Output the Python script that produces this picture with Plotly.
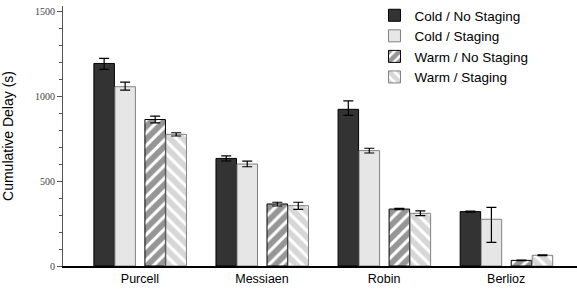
import plotly.graph_objects as go

categories = ["Purcell", "Messiaen", "Robin", "Berlioz"]
series_names = ["Cold / No Staging", "Cold / Staging", "Warm / No Staging", "Warm / Staging"]

cold_nostaging = [1192, 633, 922, 320]
cold_nostaging_err_plus = [30, 15, 50, 3]
cold_nostaging_err_minus = [35, 15, 36, 3]

cold_staging = [1055, 600, 679, 275]
cold_staging_err_plus = [27, 17, 14, 70]
cold_staging_err_minus = [20, 16, 14, 136]

warm_nostaging = [862, 365, 335, 33]
warm_nostaging_err_plus = [20, 10, 4, 2]
warm_nostaging_err_minus = [20, 12, 4, 2]

warm_staging = [775, 355, 310, 63]
warm_staging_err_plus = [9, 20, 14, 2]
warm_staging_err_minus = [10, 22, 14, 2]

values = [cold_nostaging, cold_staging, warm_nostaging, warm_staging]
err_plus = [cold_nostaging_err_plus, cold_staging_err_plus, warm_nostaging_err_plus, warm_staging_err_plus]
err_minus = [cold_nostaging_err_minus, cold_staging_err_minus, warm_nostaging_err_minus, warm_staging_err_minus]

offsets = [-0.377, -0.205, 0.041, 0.213]
bar_width = 0.168
fills = ["#333333", "#e6e6e6", "white", "white"]
lines = ["#000000", "#808080", "#000000", "#808080"]
patterns = [
    dict(shape=""),
    dict(shape=""),
    dict(shape="/", fgcolor="#2e2e2e", bgcolor="white", size=9, solidity=0.65, fillmode="overlay"),
    dict(shape="\\", fgcolor="#b0b0b0", bgcolor="white", size=9, solidity=0.65, fillmode="overlay"),
]

fig = go.Figure()
for i in range(4):
    fig.add_trace(go.Bar(
        x=categories,
        y=values[i],
        name=series_names[i],
        offset=offsets[i],
        width=bar_width,
        marker=dict(color=fills[i], line=dict(color=lines[i], width=1), pattern=patterns[i]),
        error_y=dict(type="data", symmetric=False, array=err_plus[i], arrayminus=err_minus[i],
                     color="black", thickness=1.2, width=5),
    ))

fig.update_layout(
    width=577, height=290,
    margin=dict(l=63, r=0, t=6, b=24),
    plot_bgcolor="white", paper_bgcolor="white",
    barmode="overlay",
    font=dict(family="Liberation Sans, Arial, sans-serif", color="black"),
    legend=dict(x=0.606, y=1.025, xanchor="left", yanchor="top", bgcolor="rgba(0,0,0,0)",
                font=dict(size=13.5, color="black"), itemwidth=30, tracegroupgap=0),
    xaxis=dict(
        type="category", range=[-0.63, 3.58],
        showline=True, linecolor="black", linewidth=1.5, ticks="",
        showgrid=False, zeroline=False,
        tickfont=dict(size=12.5, color="black"),
    ),
    yaxis=dict(
        range=[0, 1530],
        showline=True, linecolor="#555555", linewidth=1,
        ticks="outside", ticklen=5, tickcolor="#555555", tickwidth=1,
        tickvals=[0, 500, 1000, 1500],
        minor=dict(ticks="outside", ticklen=3, tickcolor="#555555", dtick=100, tick0=0),
        showgrid=False, zeroline=False,
        tickfont=dict(family="Liberation Serif, Times New Roman, serif", size=10, color="#444444"),
        title=dict(text="Cumulative Delay (s)", font=dict(size=14, color="black"), standoff=18),
    ),
)

fig.write_html("out.html", config={"displayModeBar": False},
               post_script="document.body.style.margin='0';")
